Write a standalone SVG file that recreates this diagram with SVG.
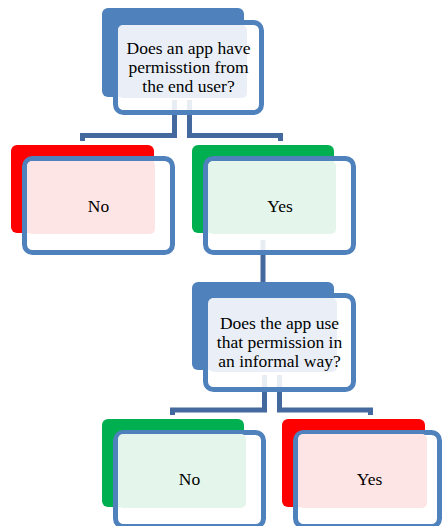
<svg xmlns="http://www.w3.org/2000/svg" width="442" height="526" viewBox="0 0 442 526">
<style>
.back{stroke:none}
.blue{fill:#4F81BD}
.red{fill:#FF0000}
.green{fill:#00B050}
.frame{fill:#FFFFFF;fill-opacity:0.88;stroke:#4F81BD;stroke-width:5}
.lb{fill:#EAEFF7}
.lr{fill:#FEE5E5}
.lg{fill:#E4F5EB}
.conn{fill:none;stroke:#44699F;stroke-width:5;stroke-linejoin:miter}
.t{font-family:'Liberation Serif','DejaVu Serif',serif;font-size:17.5px;fill:#000000;text-anchor:middle}
</style>
<rect width="442" height="526" fill="#FFFFFF"/>
<g id="connectors">
<path class="conn" d="M174.5 100 V135.5 H82.5 V141"/>
<path class="conn" d="M189.5 100 V135.5 H280.5 V141"/>
<path class="conn" d="M263 240 V283"/>
<path class="conn" d="M264.5 375 V410 H172.5 V415"/>
<path class="conn" d="M279.5 375 V410 H370.5 V415"/>
</g>
<g id="q1">
<rect class="back blue" x="102" y="8" width="142" height="89" rx="6"/>
<rect class="frame" x="115.5" y="22.5" width="146" height="90" rx="8"/>
<rect class="lb" x="118" y="25" width="129" height="73" rx="5"/>
<text class="t" x="188.5" y="54" font-family="Liberation Serif, serif"><tspan x="188.5" y="54">Does an app have</tspan><tspan x="188.5" y="73">permisstion from</tspan><tspan x="188.5" y="92">the end user?</tspan></text>
</g>
<g id="no1">
<rect class="back red" x="11" y="145" width="143" height="88" rx="6"/>
<rect class="frame" x="24.5" y="158.5" width="148" height="94" rx="8"/>
<rect class="lr" x="27" y="161" width="128" height="73" rx="5"/>
<text class="t" x="98.5" y="212" font-family="Liberation Serif, serif">No</text>
</g>
<g id="yes1">
<rect class="back green" x="192" y="145" width="142" height="88" rx="6"/>
<rect class="frame" x="205.5" y="158.5" width="148" height="94" rx="8"/>
<rect class="lg" x="208" y="161" width="128" height="73" rx="5"/>
<text class="t" x="280" y="212" font-family="Liberation Serif, serif">Yes</text>
</g>
<g id="q2">
<rect class="back blue" x="192" y="282" width="142" height="88" rx="6"/>
<rect class="frame" x="205.5" y="295.5" width="148" height="94" rx="8"/>
<rect class="lb" x="209" y="298" width="128" height="74" rx="5"/>
<text class="t" x="279.5" y="328.5" font-family="Liberation Serif, serif"><tspan x="279.5" y="328.5">Does the app use</tspan><tspan x="279.5" y="347.5">that permission in</tspan><tspan x="279.5" y="366.5">an informal way?</tspan></text>
</g>
<g id="no2">
<rect class="back green" x="102" y="419" width="142" height="88" rx="6"/>
<rect class="frame" x="115.5" y="432.5" width="148" height="94" rx="8"/>
<rect class="lg" x="118" y="434" width="128" height="74" rx="5"/>
<text class="t" x="189.5" y="485" font-family="Liberation Serif, serif">No</text>
</g>
<g id="yes2">
<rect class="back red" x="282" y="419" width="143" height="88" rx="6"/>
<rect class="frame" x="295.5" y="432.5" width="144" height="94" rx="8"/>
<rect class="lr" x="298" y="434" width="129" height="74" rx="5"/>
<text class="t" x="369.5" y="485" font-family="Liberation Serif, serif">Yes</text>
</g>
</svg>
